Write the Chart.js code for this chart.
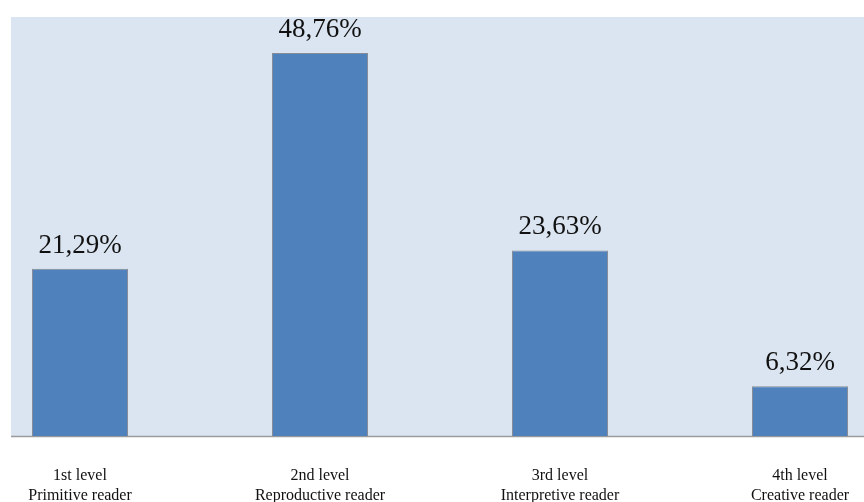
<!DOCTYPE html>
<html>
<head>
<meta charset="utf-8">
<script src="https://cdn.jsdelivr.net/npm/chart.js@4/dist/chart.umd.min.js"></script>
<style>
  html, body { margin: 0; padding: 0; background: #fff; overflow: hidden; }
  #wrap { position: absolute; left: -40px; top: 0; width: 960px; height: 536px; }
</style>
</head>
<body>
<div id="wrap"><canvas id="grafico" width="960" height="536"></canvas></div>
<script>
var niveis = ['1st level', '2nd level', '3rd level', '4th level'];
var leitores = ['Primitive reader', 'Reproductive reader', 'Interpretive reader', 'Creative reader'];
var valores = [21.29, 48.76, 23.63, 6.32];

var rotulos = niveis.map(function (n, i) { return [n, leitores[i]]; });

// fundo da area do grafico e linha do eixo (a imagem original comeca cortada a esquerda)
var fundoPlugin = {
  id: 'fundo',
  beforeDatasetsDraw: function (chart) {
    var ctx = chart.ctx;
    var area = chart.chartArea;
    ctx.save();
    ctx.fillStyle = '#dbe5f1';
    ctx.fillRect(51, area.top, chart.width - 51, area.bottom - area.top);
    ctx.strokeStyle = '#9a9a9a';
    ctx.lineWidth = 1.5;
    ctx.beginPath();
    ctx.moveTo(51, area.bottom + 0.5);
    ctx.lineTo(chart.width, area.bottom + 0.5);
    ctx.stroke();
    ctx.restore();
  }
};

var valoresPlugin = {
  id: 'valores',
  afterDatasetsDraw: function (chart) {
    var ctx = chart.ctx;
    var meta = chart.getDatasetMeta(0);
    ctx.save();
    ctx.font = '27px "Liberation Serif", "Times New Roman", serif';
    ctx.fillStyle = '#111';
    ctx.textAlign = 'center';
    ctx.textBaseline = 'alphabetic';
    meta.data.forEach(function (barra, i) {
      var texto = valores[i].toFixed(2).replace('.', ',') + '%';
      ctx.fillText(texto, barra.x, barra.y - 16);
    });
    ctx.restore();
  }
};

new Chart(document.getElementById('grafico'), {
  type: 'bar',
  data: {
    labels: rotulos,
    datasets: [{
      data: valores,
      backgroundColor: '#4f81bd',
      borderColor: '#878d96',
      borderWidth: 1,
      categoryPercentage: 1,
      barPercentage: 0.4
    }]
  },
  options: {
    responsive: false,
    animation: false,
    layout: { padding: { top: 17, left: 0, right: 0, bottom: 0 } },
    plugins: {
      legend: { display: false },
      tooltip: { enabled: false }
    },
    scales: {
      y: {
        display: false,
        min: 0,
        max: 53.34
      },
      x: {
        grid: { display: false, drawTicks: false },
        border: { display: false },
        ticks: {
          color: '#111',
          padding: 30,
          maxRotation: 0,
          autoSkip: false,
          font: { family: '"Liberation Serif", "Times New Roman", serif', size: 16, lineHeight: '20px' }
        }
      }
    }
  },
  plugins: [fundoPlugin, valoresPlugin]
});
</script>
</body>
</html>
